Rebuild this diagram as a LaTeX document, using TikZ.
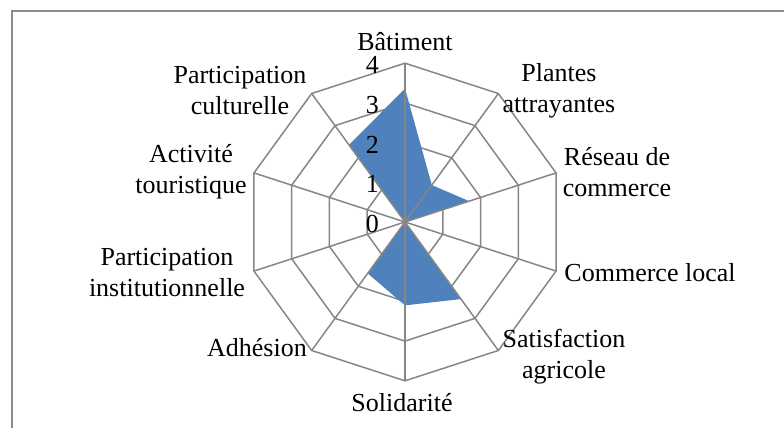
\documentclass[tikz,border=0pt]{standalone}
\usepackage{fontspec}
\setmainfont{Liberation Serif}
\definecolor{gridgray}{RGB}{134,134,134}
\definecolor{framegray}{RGB}{140,140,140}
\definecolor{fillblue}{RGB}{79,129,189}
\begin{document}
\begin{tikzpicture}[x=1pt,y=-1pt,
  grid/.style={draw=gridgray,line width=1.5pt},
  lab/.style={font=\fontsize{26}{31}\selectfont,align=center,inner sep=0pt},
  tick/.style={font=\fontsize{26}{31}\selectfont,inner sep=0pt,anchor=east}]
\useasboundingbox (0,0) rectangle (784,428);
\def\R{39.7}
\coordinate (c) at (405,222);
% frame
\draw[framegray,line width=2pt] (12,428) -- (12,11) -- (784,11);
% rings
\foreach \k in {1,2,3,4}{
  \draw[grid] ({405+\k*\R*cos(90)},{222-\k*\R*sin(90)})
    \foreach \i in {1,...,9}{ -- ({405+\k*\R*cos(90-36*\i)},{222-\k*\R*sin(90-36*\i)}) } -- cycle;
}
% data
\def\vals{3.36,1.15,1.7,0,2.4,2.1,1.6,0,0,2.4}
\fill[fillblue] \foreach \v [count=\i from 0] in \vals {
  \ifnum\i=0 ({405+\v*\R*cos(90)},{222-\v*\R*sin(90)}) \else -- ({405+\v*\R*cos(90-36*\i)},{222-\v*\R*sin(90-36*\i)}) \fi } -- cycle;
% spokes
\foreach \i in {0,...,9}{
  \coordinate (s\i) at ({405+4*\R*cos(90-36*\i)},{222-4*\R*sin(90-36*\i)});
  \draw[grid] (c) -- (s\i);
}
% tick labels
\foreach \k in {0,...,4}{
  \node[tick] (t\k) at (379,{222-\k*\R+2}) {\k};
}
% category labels
\node[lab] (l0) at (405,42) {Bâtiment};
\node[lab] (l1) at (559,91) {Plantes\\attrayantes};
\node[lab] (l2) at (617,172) {Réseau de\\commerce};
\node[lab] (l3) at (650,273) {Commerce local};
\node[lab] (l4) at (564,357) {Satisfaction\\agricole};
\node[lab] (l5) at (402,403) {Solidarité};
\node[lab] (l6) at (257,348) {Adhésion};
\node[lab] (l7) at (167,273) {Participation\\institutionnelle};
\node[lab] (l8) at (191,172) {Activité\\touristique};
\node[lab] (l9) at (240,91) {Participation\\culturelle};
\end{tikzpicture}
\end{document}
